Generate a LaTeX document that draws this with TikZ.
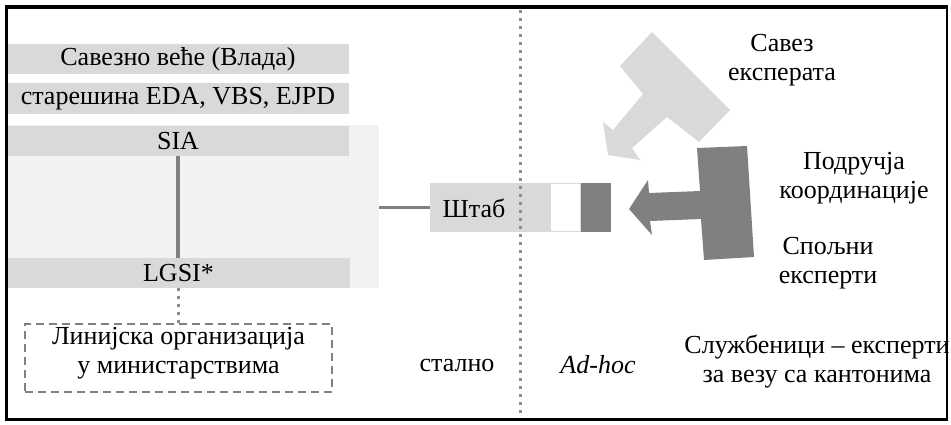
\documentclass[tikz,border=0pt]{standalone}
\usepackage{fontspec}
\setmainfont{Liberation Serif}
\definecolor{barg}{HTML}{D9D9D9}
\definecolor{bgg}{HTML}{F2F2F2}
\definecolor{darkg}{HTML}{808080}
\definecolor{dotg}{HTML}{8C8C8C}
\begin{document}
\begin{tikzpicture}[x=1pt,y=-1pt,
  bar/.style={fill=barg, draw=none, minimum width=342pt, minimum height=30pt, inner sep=0pt, font=\fontsize{26}{29}\selectfont},
  lbl/.style={inner sep=0pt, align=center, font=\fontsize{26}{29}\selectfont},
  conn/.style={draw=darkg, line width=3.5pt},
  dotln/.style={draw=dotg, line width=3pt, dash pattern=on 3pt off 5pt},
]
\useasboundingbox (0,0) rectangle (951,424);
% background panel
\node[fill=bgg, minimum width=372pt, minimum height=163pt, inner sep=0pt] (bg) at (193,206.5) {};
% bars
\node[bar] (sv) at (178,59) {Савезно веће (Влада)};
\node[bar, minimum height=31pt] (st) at (178,98.5) {старешина EDA, VBS, EJPD};
\node[bar] (sia) at (178,141) {SIA};
\node[bar, minimum width=343pt] (lgsi) at (178.5,273) {LGSI*};
\draw[conn] (sia.south) -- (sia.south |- lgsi.north);
% dashed box
\node[draw=darkg, line width=2pt, dash pattern=on 8pt off 5pt, minimum width=307pt, minimum height=68pt, inner sep=0pt] (lin) at (178.5,358) {};
\node[lbl] (lintext) at (178.5,353.5) {Линијска организација\\у министарствима};
\draw[dotln] (sia.south |- lgsi.south) -- (sia.south |- lin.north);
% staff
\node[fill=barg, minimum width=120pt, minimum height=49pt, inner sep=0pt] (stab) at (490,207.5) {};
\node[lbl] (stabt) at (474,208) {Штаб};
\node[fill=white, draw=barg, line width=1pt, minimum width=30pt, minimum height=48pt, inner sep=0pt] (wbox) at (565.5,207.5) {};
\node[fill=darkg, minimum width=30pt, minimum height=49pt, inner sep=0pt] (dbox) at (596,207.5) {};
\draw[conn, line width=3pt] (bg.east |- stab.west) -- (stab.west);
% divider
\coordinate (dtop) at (520,10);
\coordinate (dbot) at (520,418);
\draw[dotln] (dtop) -- (dbot);
% arrows
\fill[barg] (652,32) -- (730,110) -- (699,142) -- (667,117) -- (632,148) -- (640,160) -- (608,155) -- (603,122) -- (613,130) -- (643,94) -- (620,66) -- cycle;
\fill[darkg] (697,148) -- (747,146) -- (754,257) -- (704,260) -- (701,219) -- (650,221) -- (652,235) -- (629,209) -- (648,180) -- (649,193) -- (700,191) -- cycle;
% labels
\node[lbl] (savez) at (782,60) {Савез\\експерата};
\node[lbl] (podr) at (854,178) {Подручја\\координације};
\node[lbl] (spol) at (828,263) {Спољни\\експерти};
\node[lbl] (sluz) at (817,361) {Службеници – експерти\\за везу са кантонима};
\node[lbl] (stalno) at (457,365) {стално};
\node[lbl] (adhoc) at (598,365) {\textit{Ad-hoc}};
% frame
\draw[line width=2.5pt] (6.5,7) rectangle (947,419.5);
\draw[line width=3.5pt] (6.5,5) -- (6.5,421);
\draw[line width=3.5pt] (5,7) -- (948,7);
\end{tikzpicture}
\end{document}
